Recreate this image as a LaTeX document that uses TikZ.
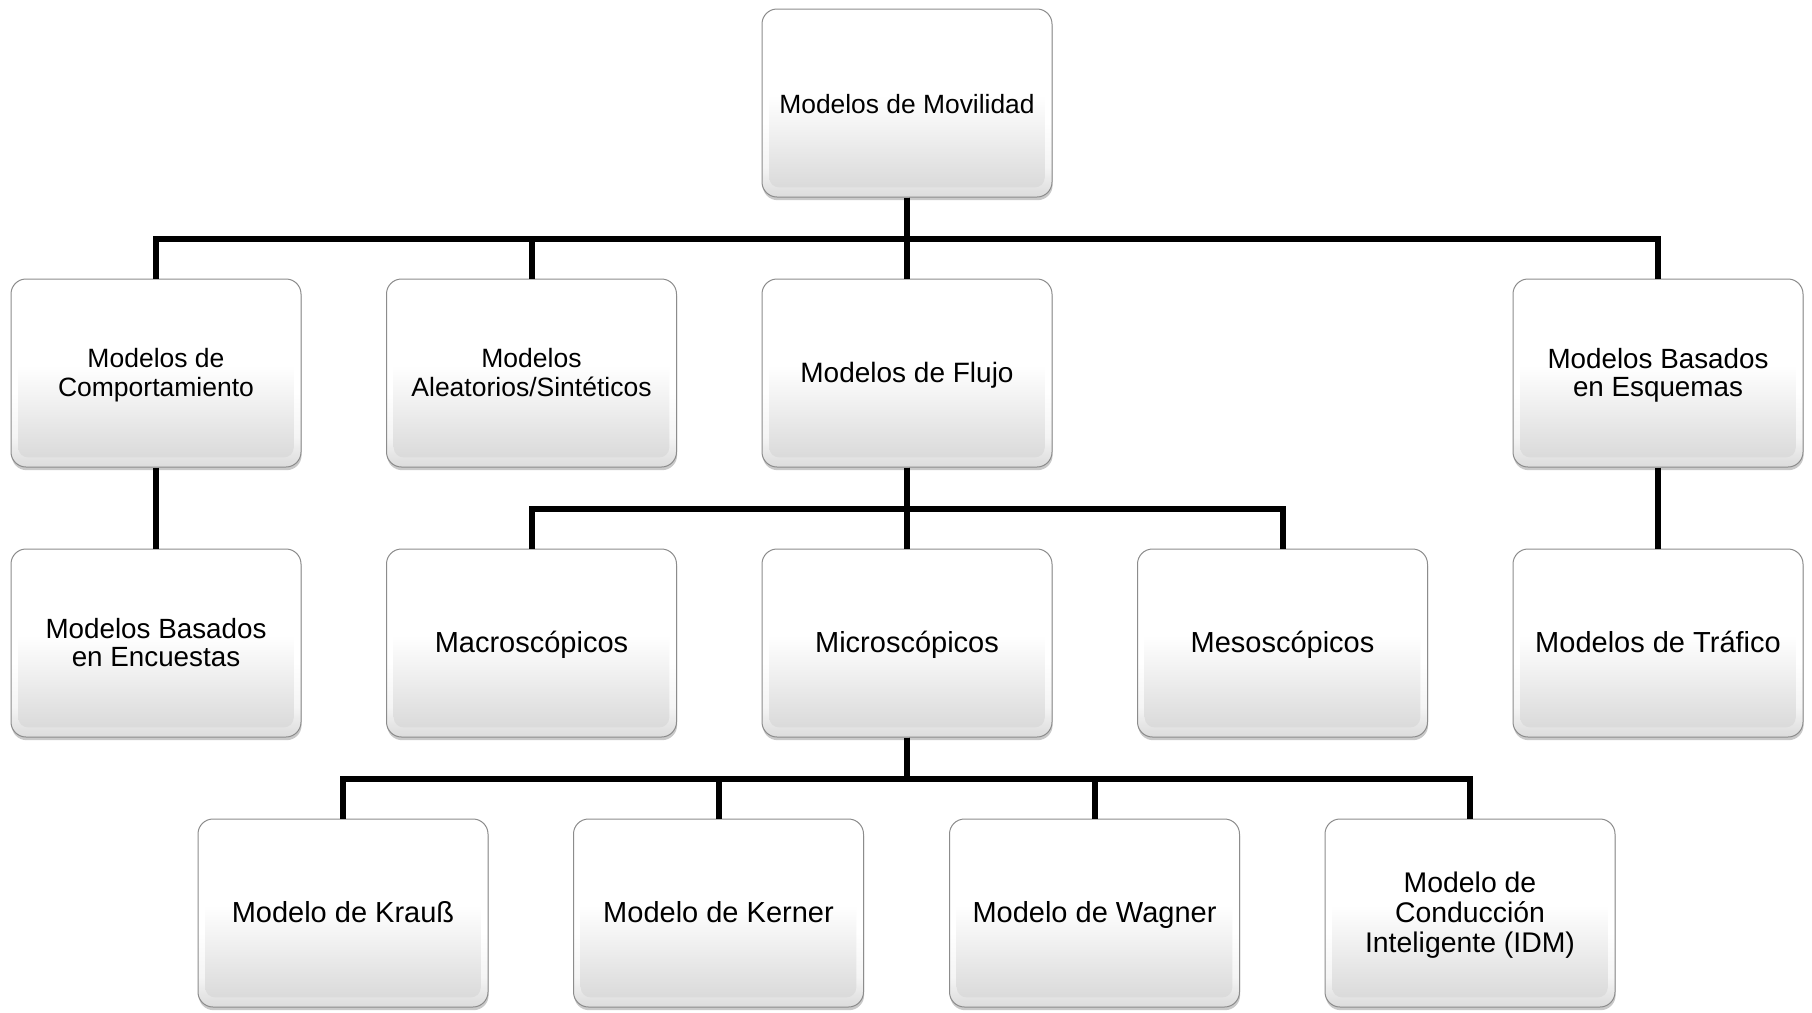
\documentclass[tikz,border=0pt]{standalone}
\usepackage{fontspec}
\setmainfont{Liberation Sans}
\usetikzlibrary{shadows,calc}

% rim of each box: white, turning light grey near the bottom edge
\pgfdeclareverticalshading{boxrim}{100bp}{%
  color(0bp)=(black!14); color(25bp)=(black!14);
  color(33bp)=(black!4); color(45bp)=(white); color(100bp)=(white)}
% face of each box: white upper half fading to light grey at the bottom
\pgfdeclareverticalshading{boxface}{100bp}{%
  color(0bp)=(black!16); color(25bp)=(black!16);
  color(52bp)=(white); color(100bp)=(white)}

\newcommand{\fz}[2]{\fontsize{#1pt}{#2pt}\selectfont}
% label block of fixed size, its lines shifted down by the optional amount
\newcommand{\lbl}[2][5.5]{\rule[-5pt]{0pt}{10pt}%
  \raisebox{-#1pt}{\smash{\begin{tabular}{@{}c@{}}#2\end{tabular}}}}

\tikzset{
  box/.style={
    draw=black!45, line width=0.5pt, rounded corners=7.5pt,
    minimum width=145pt, minimum height=94pt, inner sep=1pt,
    font=\fz{14.5}{14.5}, shading=boxrim,
    drop shadow={shadow xshift=0.3pt, shadow yshift=-1.6pt,
                 opacity=0.3, fill=black!70},
    path picture={
      \shade[shading=boxface, rounded corners=5pt]
        ($(path picture bounding box.south west)+(3.6pt,4.8pt)$) rectangle
        ($(path picture bounding box.north east)+(-3.6pt,-3pt)$);
    }},
  conn/.style={line width=3pt, black}
}

\begin{document}
\begin{tikzpicture}[x=0.5pt, y=-0.5pt]
\useasboundingbox (0,0) rectangle (1812,1013);

% level 1
\node[box, font=\fz{13.2}{14}] (mov) at (907,103) {\lbl{Modelos de Movilidad}};

% level 2
\node[box, font=\fz{13.25}{14.2}] (comp) at (156,373) {\lbl[5.7]{Modelos de\\Comportamiento}};
\node[box, font=\fz{13.25}{14.2}] (alea) at (531.5,373) {\lbl[5.7]{Modelos\\Aleatorios/Sintéticos}};
\node[box, font=\fz{14}{14.5}] (flujo) at (907,373) {\lbl{Modelos de Flujo}};
\node[box, font=\fz{13.9}{14.2}] (esq) at (1658,373) {\lbl[5.7]{Modelos Basados\\en Esquemas}};

% level 3
\node[box, font=\fz{13.9}{14.2}] (encu) at (156,643) {\lbl[5.7]{Modelos Basados\\en Encuestas}};
\node[box] (macro) at (531.5,643) {\lbl{Macroscópicos}};
\node[box] (micro) at (907,643) {\lbl{Microscópicos}};
\node[box] (meso) at (1282.5,643) {\lbl{Mesoscópicos}};
\node[box] (traf) at (1658,643) {\lbl{Modelos de Tráfico}};

% level 4
\node[box] (kraus) at (343,913) {\lbl{Modelo de Krauß}};
\node[box] (kern) at (718.5,913) {\lbl{Modelo de Kerner}};
\node[box] (wag) at (1094.5,913) {\lbl{Modelo de Wagner}};
\node[box, font=\fz{14.2}{15}] (idm) at (1470,913) {\lbl[5.6]{Modelo de\\Conducción\\Inteligente (IDM)}};

% heights of the horizontal bars
\coordinate (b1) at (0,239);
\coordinate (b2) at (0,508.5);
\coordinate (b3) at (0,779);

% connectors
\foreach \c in {comp,alea,flujo,esq}
  \draw[conn] (mov.south) -- (mov.south |- b1) -| (\c.north);
\foreach \c in {macro,micro,meso}
  \draw[conn] (flujo.south) -- (flujo.south |- b2) -| (\c.north);
\foreach \c in {kraus,kern,wag,idm}
  \draw[conn] (micro.south) -- (micro.south |- b3) -| (\c.north);
\draw[conn] (comp.south) -- (encu.north);
\draw[conn] (esq.south) -- (traf.north);
\end{tikzpicture}
\end{document}
